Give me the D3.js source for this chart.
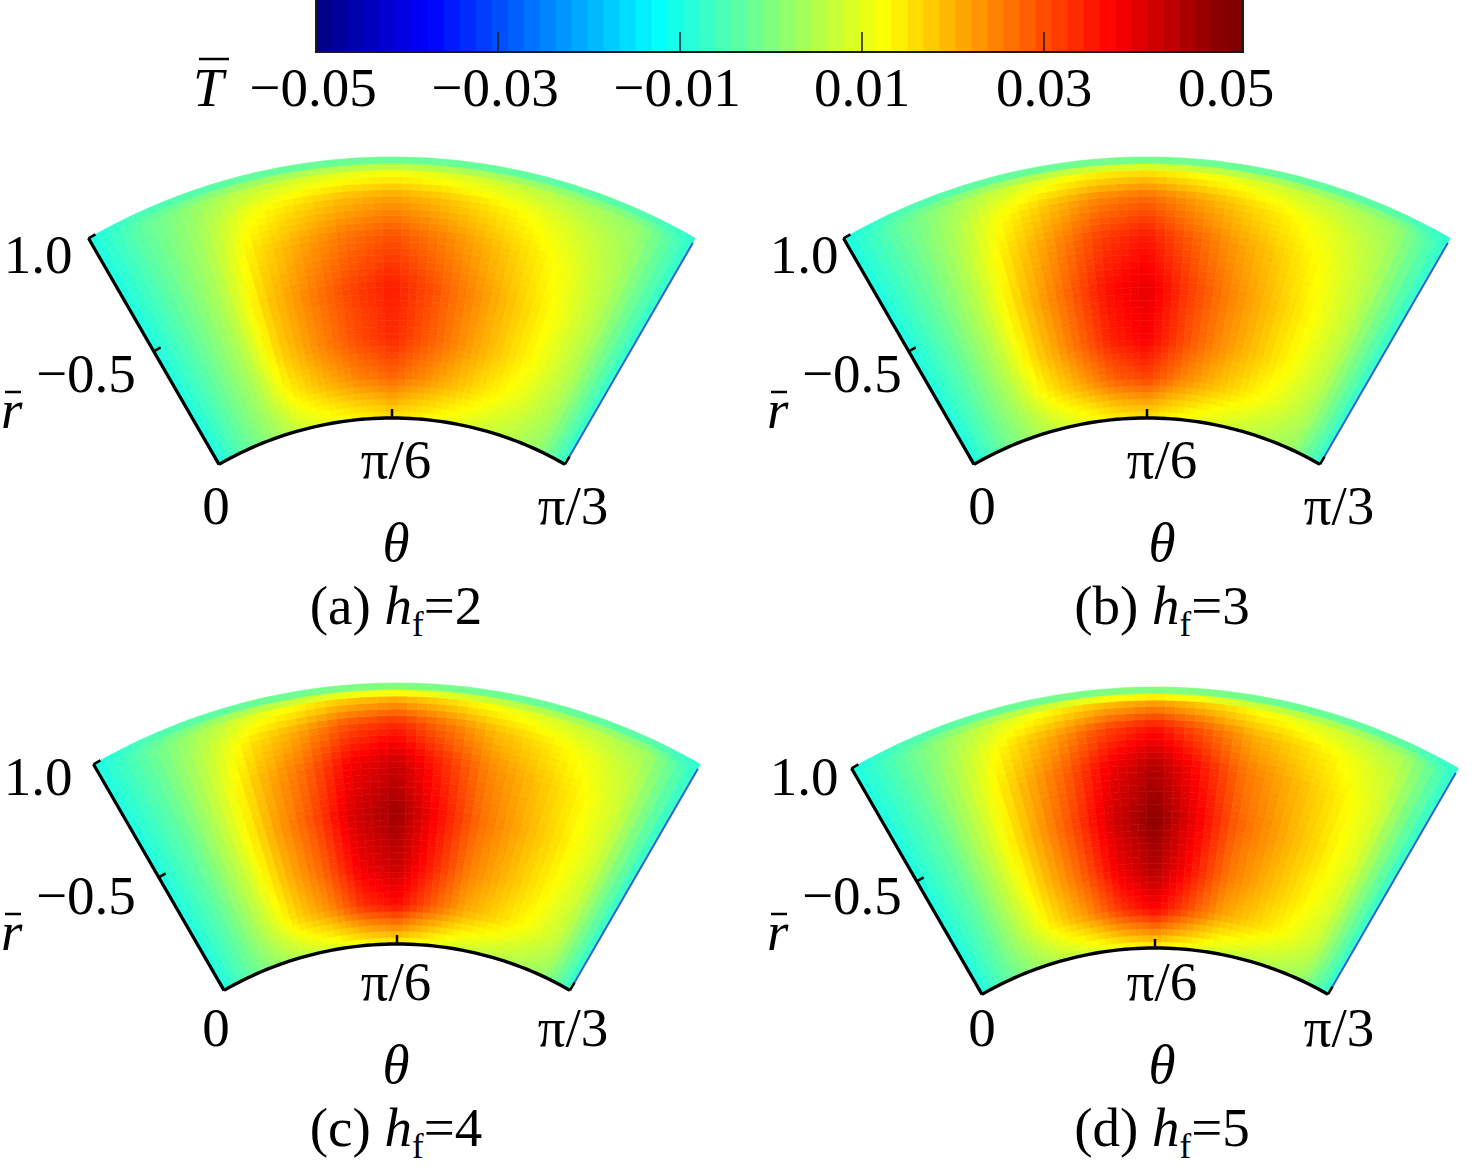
<!DOCTYPE html>
<html>
<head>
<meta charset="utf-8">
<script src="https://cdn.jsdelivr.net/npm/d3@7"></script>
<style>
  body { margin: 0; background: #fff; }
  svg { display: block; }
  text { font-family: "Liberation Serif", "Times New Roman", serif; fill: #000; }
</style>
</head>
<body>
<svg id="chart" width="1476" height="1171"></svg>
<script>
// ---- data ----
// theta nodes (degrees, 0 .. pi/3) and dimensionless radius nodes
var thetaDeg = [0, 5, 10, 15, 20, 25, 30, 35, 40, 45, 50, 55, 60];
var rBar = [0, 0.05, 0.15, 0.3, 0.5, 0.7, 0.85, 0.95, 1.0];

// T values, one row per rBar node, one column per thetaDeg node
var fieldA = [
  [-0.010, -0.003, 0.0022, 0.0077, 0.0108, 0.0133, 0.0151, 0.0129, 0.0103, 0.0077, 0.0052, 0.0022, -0.008],
  [-0.010, -0.003, 0.0027, 0.0097, 0.0135, 0.0167, 0.0189, 0.0162, 0.0130, 0.0097, 0.0065, 0.0027, -0.008],
  [-0.010, -0.003, 0.0039, 0.0140, 0.0195, 0.0242, 0.0273, 0.0234, 0.0187, 0.0140, 0.0094, 0.0039, -0.008],
  [-0.010, -0.003, 0.0048, 0.0173, 0.0240, 0.0298, 0.0336, 0.0288, 0.0230, 0.0173, 0.0115, 0.0048, -0.008],
  [-0.010, -0.003, 0.0050, 0.0180, 0.0250, 0.0310, 0.0350, 0.0300, 0.0240, 0.0180, 0.0120, 0.0050, -0.008],
  [-0.010, -0.003, 0.0043, 0.0153, 0.0213, 0.0264, 0.0298, 0.0255, 0.0204, 0.0153, 0.0102, 0.0043, -0.008],
  [-0.010, -0.003, 0.0031, 0.0112, 0.0155, 0.0192, 0.0217, 0.0186, 0.0149, 0.0112, 0.0074, 0.0031, -0.008],
  [-0.010, -0.003, 0.0015, 0.0054, 0.0075, 0.0093, 0.0105, 0.0090, 0.0072, 0.0054, 0.0036, 0.0015, -0.008],
  [-0.010, -0.006, -0.006, -0.006, -0.006, -0.006, -0.006, -0.006, -0.006, -0.006, -0.006, -0.006, -0.008]
];
var fieldB = [
  [-0.010, -0.003, 0.0023, 0.0068, 0.0103, 0.0137, 0.0152, 0.0122, 0.0095, 0.0072, 0.0049, 0.0023, -0.008],
  [-0.010, -0.003, 0.0030, 0.0090, 0.0135, 0.0180, 0.0200, 0.0160, 0.0125, 0.0095, 0.0065, 0.0030, -0.008],
  [-0.010, -0.003, 0.0046, 0.0139, 0.0208, 0.0277, 0.0308, 0.0246, 0.0193, 0.0146, 0.0100, 0.0046, -0.008],
  [-0.010, -0.003, 0.0057, 0.0171, 0.0257, 0.0342, 0.0380, 0.0304, 0.0238, 0.0181, 0.0124, 0.0057, -0.008],
  [-0.010, -0.003, 0.0060, 0.0180, 0.0270, 0.0360, 0.0400, 0.0320, 0.0250, 0.0190, 0.0130, 0.0060, -0.008],
  [-0.010, -0.003, 0.0053, 0.0158, 0.0238, 0.0317, 0.0352, 0.0282, 0.0220, 0.0167, 0.0114, 0.0053, -0.008],
  [-0.010, -0.003, 0.0041, 0.0122, 0.0184, 0.0245, 0.0272, 0.0218, 0.0170, 0.0129, 0.0088, 0.0041, -0.008],
  [-0.010, -0.003, 0.0022, 0.0065, 0.0097, 0.0130, 0.0144, 0.0115, 0.0090, 0.0068, 0.0047, 0.0022, -0.008],
  [-0.010, -0.006, -0.006, -0.006, -0.006, -0.006, -0.006, -0.006, -0.006, -0.006, -0.006, -0.006, -0.008]
];
var fieldC = [
  [-0.010, -0.003, 0.0022, 0.0059, 0.0084, 0.0118, 0.0132, 0.0104, 0.0076, 0.0059, 0.0042, 0.0022, -0.008],
  [-0.010, -0.003, 0.0037, 0.0097, 0.0138, 0.0193, 0.0216, 0.0170, 0.0124, 0.0097, 0.0069, 0.0037, -0.008],
  [-0.010, -0.003, 0.0062, 0.0164, 0.0234, 0.0328, 0.0367, 0.0289, 0.0211, 0.0164, 0.0117, 0.0062, -0.008],
  [-0.010, -0.003, 0.0074, 0.0193, 0.0276, 0.0386, 0.0432, 0.0340, 0.0248, 0.0193, 0.0138, 0.0074, -0.008],
  [-0.010, -0.003, 0.0080, 0.0210, 0.0300, 0.0420, 0.0470, 0.0370, 0.0270, 0.0210, 0.0150, 0.0080, -0.008],
  [-0.010, -0.003, 0.0073, 0.0191, 0.0273, 0.0382, 0.0428, 0.0337, 0.0246, 0.0191, 0.0137, 0.0073, -0.008],
  [-0.010, -0.003, 0.0057, 0.0149, 0.0213, 0.0298, 0.0334, 0.0263, 0.0192, 0.0149, 0.0107, 0.0057, -0.008],
  [-0.010, -0.003, 0.0032, 0.0084, 0.0120, 0.0168, 0.0188, 0.0148, 0.0108, 0.0084, 0.0060, 0.0032, -0.008],
  [-0.010, -0.006, -0.006, -0.006, -0.006, -0.006, -0.006, -0.006, -0.006, -0.006, -0.006, -0.006, -0.008]
];
var fieldD = [
  [-0.010, -0.003, 0.0021, 0.0052, 0.0078, 0.0109, 0.0127, 0.0101, 0.0073, 0.0057, 0.0042, 0.0023, -0.008],
  [-0.010, -0.003, 0.0036, 0.0090, 0.0135, 0.0189, 0.0221, 0.0176, 0.0126, 0.0099, 0.0072, 0.0041, -0.008],
  [-0.010, -0.003, 0.0062, 0.0154, 0.0231, 0.0323, 0.0377, 0.0300, 0.0216, 0.0169, 0.0123, 0.0069, -0.008],
  [-0.010, -0.003, 0.0074, 0.0184, 0.0276, 0.0386, 0.0451, 0.0359, 0.0258, 0.0202, 0.0147, 0.0083, -0.008],
  [-0.010, -0.003, 0.0080, 0.0200, 0.0300, 0.0420, 0.0490, 0.0390, 0.0280, 0.0220, 0.0160, 0.0090, -0.008],
  [-0.010, -0.003, 0.0074, 0.0184, 0.0276, 0.0386, 0.0451, 0.0359, 0.0258, 0.0202, 0.0147, 0.0083, -0.008],
  [-0.010, -0.003, 0.0058, 0.0146, 0.0219, 0.0307, 0.0358, 0.0285, 0.0204, 0.0161, 0.0117, 0.0066, -0.008],
  [-0.010, -0.003, 0.0034, 0.0084, 0.0126, 0.0176, 0.0206, 0.0164, 0.0118, 0.0092, 0.0067, 0.0038, -0.008],
  [-0.010, -0.006, -0.006, -0.006, -0.006, -0.006, -0.006, -0.006, -0.006, -0.006, -0.006, -0.006, -0.008]
];

var panelLetters = ["a", "b", "c", "d"];
var panelHf = [2, 3, 4, 5];
var panelFields = [fieldA, fieldB, fieldC, fieldD];

var colorTicks = [-0.05, -0.03, -0.01, 0.01, 0.03, 0.05];
var colorTickLabels = ["\u22120.05", "\u22120.03", "\u22120.01", "0.01", "0.03", "0.05"];
var rTicks = [0.5, 1.0];
var rTickLabels = ["\u22120.5", "1.0"];
var thetaTicks = [0, 30, 60];
var thetaTickLabels = ["0", "\u03c0/6", "\u03c0/3"];

// ---- layout ----
var svg = d3.select("#chart");
var cx = 392, cy = 764;
var fieldShift = [[0, 0], [755, 0], [5, 526], [763, 530]];
var textShift = [[0, 0], [766, 0], [0, 522], [766, 522]];
var fs = 55;

var angle = d3.scaleLinear().domain([0, 60]).range([-Math.PI / 6, Math.PI / 6]);
var radius = d3.scaleLinear().domain([0, 1]).range([346, 607]);

// jet colour map over the colour bar range
var jet = d3.scaleLinear()
  .domain([-0.05, -0.0375, -0.0125, 0.0125, 0.0375, 0.05])
  .range(["#000080", "#0000ff", "#00ffff", "#ffff00", "#ff0000", "#800000"])
  .clamp(true);

function pt(th, rb) {
  var a = angle(th), r = radius(rb);
  return [cx + r * Math.sin(a), cy - r * Math.cos(a)];
}

// bilinear lookup in a field grid
function sample(field, th, rb) {
  var j = Math.min(thetaDeg.length - 2, Math.max(0, d3.bisectRight(thetaDeg, th) - 1));
  var i = Math.min(rBar.length - 2, Math.max(0, d3.bisectRight(rBar, rb) - 1));
  var u = (th - thetaDeg[j]) / (thetaDeg[j + 1] - thetaDeg[j]);
  var w = (rb - rBar[i]) / (rBar[i + 1] - rBar[i]);
  var v0 = field[i][j] * (1 - u) + field[i][j + 1] * u;
  var v1 = field[i + 1][j] * (1 - u) + field[i + 1][j + 1] * u;
  return v0 * (1 - w) + v1 * w;
}

// ---- colour bar ----
var cbX = d3.scaleLinear().domain([-0.05, 0.05]).range([316, 1226]);
var cbEnd = 1243, cbTop = 0, cbBot = 52, nSteps = 58;
var cbStep = (cbEnd - cbX(-0.05)) / nSteps;
var cb = svg.append("g").attr("class", "colorbar");
cb.selectAll("rect.step").data(d3.range(nSteps)).enter().append("rect")
  .attr("class", "step")
  .attr("x", function(k) { return cbX(-0.05) + k * cbStep; })
  .attr("y", cbTop)
  .attr("width", cbStep + 0.6)
  .attr("height", cbBot - cbTop)
  .attr("fill", function(k) { return jet(cbX.invert(cbX(-0.05) + (k + 0.5) * cbStep)); });
cb.append("path")
  .attr("d", "M" + cbX(-0.05) + "," + cbTop + "V" + cbBot + "H" + cbEnd + "V" + cbTop)
  .attr("fill", "none").attr("stroke", "#1a1a1a").attr("stroke-width", 2);
cb.selectAll("line.tick").data(colorTicks.slice(1, -1)).enter().append("line")
  .attr("class", "tick")
  .attr("x1", cbX).attr("x2", cbX)
  .attr("y1", cbBot).attr("y2", cbBot - 20)
  .attr("stroke", "#1a1a1a").attr("stroke-width", 1.5);
cb.selectAll("text.tl").data(colorTicks).enter().append("text")
  .attr("class", "tl")
  .attr("x", function(d) { return cbX(d) - (d < 0 ? 3 : 0); })
  .attr("y", 106)
  .attr("text-anchor", "middle")
  .attr("font-size", fs)
  .text(function(d, i) { return colorTickLabels[i]; });
cb.append("text").attr("x", 193).attr("y", 106).attr("font-size", fs)
  .attr("font-style", "italic").text("T");
cb.append("line").attr("x1", 199).attr("x2", 229).attr("y1", 59).attr("y2", 59)
  .attr("stroke", "#000").attr("stroke-width", 2.5);

// ---- panels ----
var nTh = 60, nR = 40;
var cellArc = d3.arc();

panelFields.forEach(function(field, p) {
  var g = svg.append("g")
    .attr("transform", "translate(" + fieldShift[p][0] + "," + fieldShift[p][1] + ")");

  var cells = [];
  for (var i = 0; i < nR; i++) {
    for (var j = 0; j < nTh; j++) {
      var t0 = j * 60 / nTh, t1 = (j + 1) * 60 / nTh;
      var r0 = i / nR, r1 = (i + 1) / nR;
      cells.push({ t0: t0, t1: t1, r0: r0, r1: r1,
                   v: sample(field, (t0 + t1) / 2, (r0 + r1) / 2) });
    }
  }
  var cg = g.append("g").attr("transform", "translate(" + cx + "," + cy + ")");
  cg.selectAll("path").data(cells).enter().append("path")
    .attr("d", function(d) {
      return cellArc({ innerRadius: radius(d.r0), outerRadius: radius(d.r1),
                       startAngle: angle(d.t0), endAngle: angle(d.t1) });
    })
    .attr("fill", function(d) { return jet(d.v); })
    .attr("stroke", function(d) { return jet(d.v); })
    .attr("stroke-width", 0.6);

  // side face of the right edge
  var edge = d3.line();
  g.append("path")
    .attr("d", edge([pt(60, 0.02), pt(60, 0.98)]))
    .attr("fill", "none").attr("stroke", "#2f62e0").attr("stroke-width", 2);

  // axes: left edge (r) and inner arc (theta)
  g.append("path")
    .attr("d", edge([pt(0, 0), pt(0, 1)]))
    .attr("fill", "none").attr("stroke", "#000").attr("stroke-width", 3.2);
  g.append("path")
    .attr("d", edge(d3.range(0, 60.5, 1).map(function(t) { return pt(t, 0); })))
    .attr("fill", "none").attr("stroke", "#000").attr("stroke-width", 3.4);

  // ticks pointing into the field
  g.selectAll("line.rt").data(rTicks).enter().append("line")
    .attr("class", "rt")
    .attr("x1", function(d) { return pt(0, d)[0]; })
    .attr("y1", function(d) { return pt(0, d)[1]; })
    .attr("x2", function(d) { return pt(0, d)[0] + 8 * Math.cos(angle(0)); })
    .attr("y2", function(d) { return pt(0, d)[1] + 8 * Math.sin(angle(0)); })
    .attr("stroke", "#000").attr("stroke-width", 2.5);
  g.selectAll("line.tt").data(thetaTicks).enter().append("line")
    .attr("class", "tt")
    .attr("x1", function(d) { return pt(d, 0)[0]; })
    .attr("y1", function(d) { return pt(d, 0)[1]; })
    .attr("x2", function(d) { return pt(d, 0)[0] + 9 * Math.sin(angle(d)); })
    .attr("y2", function(d) { return pt(d, 0)[1] - 9 * Math.cos(angle(d)); })
    .attr("stroke", "#000").attr("stroke-width", 2.5);

  // labels
  var tg = svg.append("g")
    .attr("transform", "translate(" + textShift[p][0] + "," + textShift[p][1] + ")")
    .attr("font-size", fs);
  var rOff = [[-18, 41], [-16, 35]];
  tg.selectAll("text.rl").data(rTicks).enter().append("text")
    .attr("class", "rl")
    .attr("x", function(d, i) { return pt(0, d)[0] + rOff[i][0]; })
    .attr("y", function(d, i) { return pt(0, d)[1] + rOff[i][1]; })
    .attr("text-anchor", "end")
    .text(function(d, i) { return rTickLabels[i]; });
  var tOff = [-3, 4, 8];
  tg.selectAll("text.tl").data(thetaTicks).enter().append("text")
    .attr("class", "tl")
    .attr("x", function(d, i) { return pt(d, 0)[0] + tOff[i]; })
    .attr("y", function(d, i) { return i === 1 ? pt(d, 0)[1] + 60 : 524; })
    .attr("text-anchor", "middle")
    .text(function(d, i) { return thetaTickLabels[i]; });

  var mid = pt(30, 0);
  tg.append("text").attr("x", mid[0] + 4).attr("y", 561)
    .attr("text-anchor", "middle").attr("font-style", "italic").text("\u03b8");
  tg.append("text").attr("x", 1).attr("y", 428)
    .attr("font-style", "italic").text("r");
  tg.append("line").attr("x1", 5).attr("x2", 21).attr("y1", 392).attr("y2", 392)
    .attr("stroke", "#000").attr("stroke-width", 2.5);

  var cap = tg.append("text").attr("x", mid[0] + 4).attr("y", 624).attr("text-anchor", "middle");
  cap.append("tspan").text("(" + panelLetters[p] + ") ");
  cap.append("tspan").attr("font-style", "italic").text("h");
  cap.append("tspan").attr("font-size", 35).attr("dy", 12).text("f");
  cap.append("tspan").attr("dy", -12).text("=" + panelHf[p]);
});
</script>
</body>
</html>
